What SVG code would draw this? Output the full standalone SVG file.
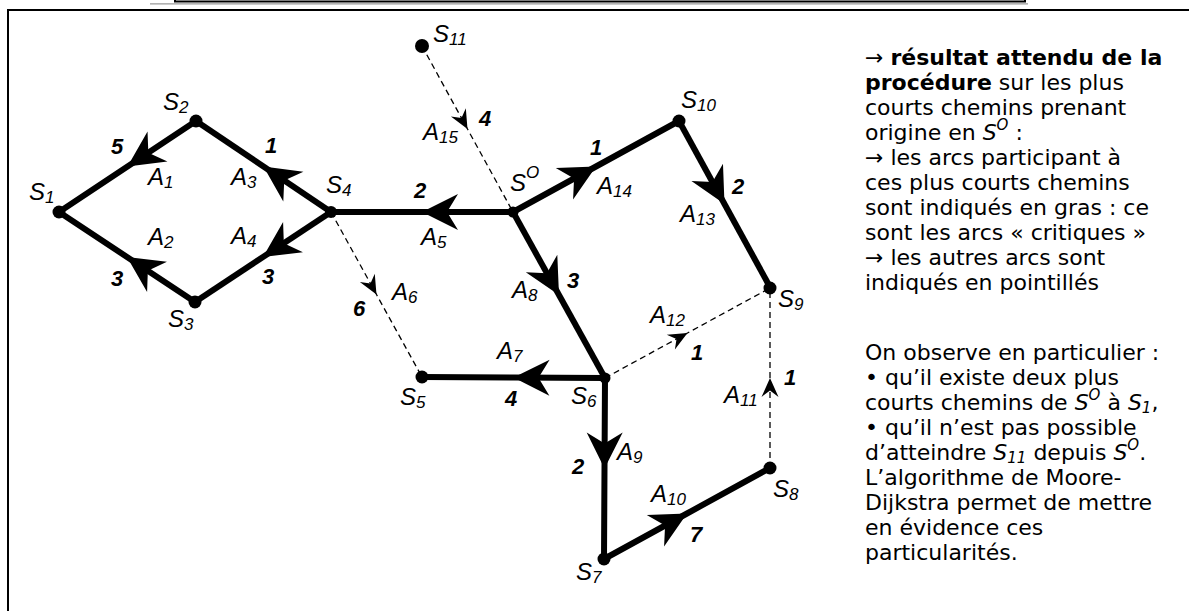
<svg xmlns="http://www.w3.org/2000/svg" width="1189" height="611" viewBox="0 0 1189 611">
<defs>
<marker id="ab" markerUnits="userSpaceOnUse" viewBox="-38 -20 40 40" markerWidth="40" markerHeight="40" refX="0" refY="0" orient="auto">
<path d="M0,0 L-36,-18 L-25,0 L-36,18 Z" fill="#000"/>
</marker>
<marker id="ad" markerUnits="userSpaceOnUse" viewBox="-21 -10 23 20" markerWidth="23" markerHeight="20" refX="0" refY="0" orient="auto">
<path d="M0,0 L-19,-8.5 L-12.5,0 L-19,8.5 Z" fill="#000"/>
</marker>
<style>
.lab{font-family:"Liberation Sans",Arial,sans-serif;font-style:italic;font-size:24px;fill:#000}
.sub{font-size:17px}
.w{font-family:"Liberation Sans",Arial,sans-serif;font-style:italic;font-weight:bold;font-size:22px;fill:#000}
.bold{stroke:#000;stroke-width:6;fill:none;marker-mid:url(#ab)}
.dash{stroke:#000;stroke-width:1.3;stroke-dasharray:6 4;fill:none;marker-mid:url(#ad)}
.txt{font-family:"DejaVu Sans",Verdana,sans-serif;font-size:22px;fill:#000}
.b{font-weight:bold}
.i{font-style:italic}
.node circle{fill:#000}
</style>
</defs>
<rect width="1189" height="611" fill="#fff"/>
<g id="frame">
<path d="M8,611 V10 H1189" fill="none" stroke="#000" stroke-width="2"/>
<path d="M175,0 V1.5 H1025 V0" fill="none" stroke="#000" stroke-width="2"/>
<path d="M150,3.8 H1028" fill="none" stroke="#999" stroke-width="1.2"/>
</g>
<g id="connectors">
<g id="A1"><path class="bold" d="M196,121 L127.5,166.5 L59,212"/><text class="lab" x="148" y="185">A<tspan class="sub" dy="3">1</tspan></text><text class="w" x="111" y="154">5</text></g>
<g id="A2"><path class="bold" d="M195,302 L127,257 L59,212"/><text class="lab" x="148" y="245">A<tspan class="sub" dy="3">2</tspan></text><text class="w" x="111" y="286">3</text></g>
<g id="A3"><path class="bold" d="M331,212 L263.5,166.5 L196,121"/><text class="lab" x="231" y="185">A<tspan class="sub" dy="3">3</tspan></text><text class="w" x="265" y="153">1</text></g>
<g id="A4"><path class="bold" d="M331,212 L263,257 L195,302"/><text class="lab" x="231" y="244">A<tspan class="sub" dy="3">4</tspan></text><text class="w" x="262" y="284">3</text></g>
<g id="A5"><path class="bold" d="M513,212 L422,212 L331,212"/><text class="lab" x="421" y="245">A<tspan class="sub" dy="3">5</tspan></text><text class="w" x="414" y="198">2</text></g>
<g id="A6"><path class="dash" d="M331,212 L376.5,294.5 L422,377"/><text class="lab" x="392" y="300">A<tspan class="sub" dy="3">6</tspan></text><text class="w" x="353" y="316">6</text></g>
<g id="A7"><path class="bold" d="M605,378 L513.5,377.5 L422,377"/><text class="lab" x="497" y="359">A<tspan class="sub" dy="3">7</tspan></text><text class="w" x="505" y="406">4</text></g>
<g id="A8"><path class="bold" d="M513,212 L559,295 L605,378"/><text class="lab" x="512" y="298">A<tspan class="sub" dy="3">8</tspan></text><text class="w" x="567" y="288">3</text></g>
<g id="A9"><path class="bold" d="M605,378 L604.5,468.5 L604,559"/><text class="lab" x="617" y="460">A<tspan class="sub" dy="3">9</tspan></text><text class="w" x="572" y="474">2</text></g>
<g id="A10"><path class="bold" d="M604,559 L687,513.5 L770,468"/><text class="lab" x="651" y="502">A<tspan class="sub" dy="3">10</tspan></text><text class="w" x="690" y="542">7</text></g>
<g id="A11"><path class="dash" d="M770,468 L770,378 L770,288"/><text class="lab" x="724" y="403">A<tspan class="sub" dy="3">11</tspan></text><text class="w" x="784" y="385">1</text></g>
<g id="A12"><path class="dash" d="M605,378 L687.5,333 L770,288"/><text class="lab" x="650" y="323">A<tspan class="sub" dy="3">12</tspan></text><text class="w" x="691" y="360">1</text></g>
<g id="A13"><path class="bold" d="M679,121 L724.5,204 L770,287"/><text class="lab" x="680" y="222">A<tspan class="sub" dy="3">13</tspan></text><text class="w" x="732" y="194">2</text></g>
<g id="A14"><path class="bold" d="M513,212 L596,166.5 L679,121"/><text class="lab" x="597" y="194">A<tspan class="sub" dy="3">14</tspan></text><text class="w" x="590" y="155">1</text></g>
<g id="A15"><path class="dash" d="M422,46 L467.5,129 L513,212"/><text class="lab" x="423" y="140">A<tspan class="sub" dy="3">15</tspan></text><text class="w" x="479" y="126">4</text></g>
</g>
<g id="S1" class="node"><circle cx="59" cy="212" r="6.5"/><text class="lab" x="29" y="200">S<tspan class="sub" dy="3">1</tspan></text></g>
<g id="S2" class="node"><circle cx="196" cy="121" r="6.5"/><text class="lab" x="163" y="110">S<tspan class="sub" dy="3">2</tspan></text></g>
<g id="S3" class="node"><circle cx="195" cy="302" r="6.5"/><text class="lab" x="168" y="327">S<tspan class="sub" dy="3">3</tspan></text></g>
<g id="S4" class="node"><circle cx="331" cy="212" r="6"/><text class="lab" x="326" y="193">S<tspan class="sub" dy="3">4</tspan></text></g>
<g id="S5" class="node"><circle cx="422" cy="377" r="6.5"/><text class="lab" x="400" y="405">S<tspan class="sub" dy="3">5</tspan></text></g>
<g id="S6" class="node"><circle cx="605" cy="378" r="5.5"/><text class="lab" x="571" y="404">S<tspan class="sub" dy="3">6</tspan></text></g>
<g id="S7" class="node"><circle cx="604" cy="559" r="6.5"/><text class="lab" x="576" y="580">S<tspan class="sub" dy="3">7</tspan></text></g>
<g id="S8" class="node"><circle cx="770" cy="468" r="6.5"/><text class="lab" x="773" y="497">S<tspan class="sub" dy="3">8</tspan></text></g>
<g id="S9" class="node"><circle cx="770" cy="288" r="6.5"/><text class="lab" x="778" y="307">S<tspan class="sub" dy="3">9</tspan></text></g>
<g id="S10" class="node"><circle cx="679" cy="121" r="6.5"/><text class="lab" x="681" y="108">S<tspan class="sub" dy="3">10</tspan></text></g>
<g id="S11" class="node"><circle cx="422" cy="46" r="7"/><text class="lab" x="433" y="42">S<tspan class="sub" dy="3">11</tspan></text></g>
<g id="SO" class="node"><circle cx="513" cy="212" r="5.5"/><text class="lab" x="510" y="191">S<tspan class="sub" dy="-13">O</tspan></text></g>
<g id="notes">
<text class="txt" x="865" y="65">→ <tspan class="b">résultat attendu de la</tspan></text>
<text class="txt" x="865" y="90"><tspan class="b">procédure</tspan> sur les plus</text>
<text class="txt" x="865" y="115">courts chemins prenant</text>
<text class="txt" x="865" y="140">origine en <tspan class="i">S</tspan><tspan class="i" font-size="15" dy="-10">O</tspan><tspan dy="10"> :</tspan></text>
<text class="txt" x="865" y="165">→ les arcs participant à</text>
<text class="txt" x="865" y="190">ces plus courts chemins</text>
<text class="txt" x="865" y="215">sont indiqués en gras : ce</text>
<text class="txt" x="865" y="240">sont les arcs « critiques »</text>
<text class="txt" x="865" y="265">→ les autres arcs sont</text>
<text class="txt" x="865" y="290">indiqués en pointillés</text>
<text class="txt" x="865" y="360">On observe en particulier :</text>
<text class="txt" x="865" y="385">• qu’il existe deux plus</text>
<text class="txt" x="865" y="410">courts chemins de <tspan class="i">S</tspan><tspan class="i" font-size="15" dy="-10">O</tspan><tspan dy="10"> à </tspan><tspan class="i">S</tspan><tspan class="i" font-size="15" dy="3">1</tspan><tspan dy="-3">,</tspan></text>
<text class="txt" x="865" y="435">• qu’il n’est pas possible</text>
<text class="txt" x="865" y="460">d’atteindre <tspan class="i">S</tspan><tspan class="i" font-size="15" dy="3">11</tspan><tspan dy="-3"> depuis </tspan><tspan class="i">S</tspan><tspan class="i" font-size="15" dy="-10">O</tspan><tspan dy="10">.</tspan></text>
<text class="txt" x="865" y="485">L’algorithme de Moore-</text>
<text class="txt" x="865" y="510">Dijkstra permet de mettre</text>
<text class="txt" x="865" y="535">en évidence ces</text>
<text class="txt" x="865" y="560">particularités.</text>
</g>
</svg>
